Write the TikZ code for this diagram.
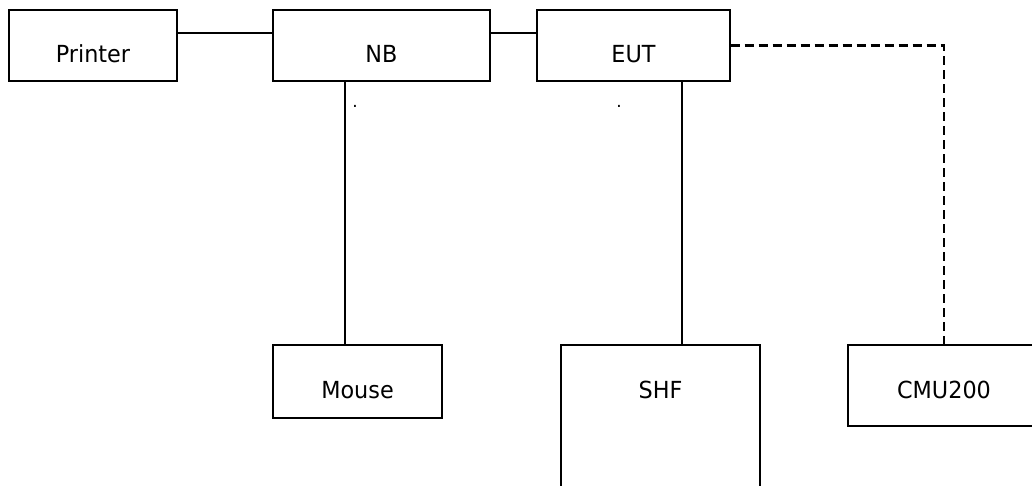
\documentclass[tikz,border=0pt]{standalone}
\usepackage{fontspec}
\setmainfont{DejaVu Sans}
\newfontfamily\boxfont[FakeStretch=0.95]{DejaVu Sans}
\usetikzlibrary{calc}
\usetikzlibrary{positioning}

\begin{document}
\begin{tikzpicture}[x=1pt,y=-1pt,line width=1.3pt,
		unit/.style={rectangle,draw=black,inner sep=0pt,text depth=0pt,font=\boxfont\fontsize{23.5}{28}\selectfont},
		link/.style={draw=black},
		radio/.style={draw=black,line width=2.4pt,dash pattern=on 9pt off 5pt}]
		\clip (0,0) rectangle (1032,486);
		
		\node[unit,minimum width=168,minimum height=71,text height=35pt] (printer) at (93,45.5)  {Printer};
		\node[unit,minimum width=217,minimum height=71,text height=35pt] (nb)      at (381.5,45.5) {NB};
		\node[unit,minimum width=193,minimum height=71,text height=35pt] (eut)     at (633.5,45.5) {EUT};
		\node[unit,minimum width=169,minimum height=73,text height=33pt] (mouse)   at (357.5,381.5) {Mouse};
		\node[unit,minimum width=199,minimum height=149,text depth=43pt,text height=0pt] (shf) at (660.5,419.5) {SHF};
		\node[unit,minimum width=192,minimum height=81,text height=25pt] (cmu)     at (944,385.5) {CMU200};
		
		% stray dots under the top row
		\node[font=\fontsize{17}{20}\selectfont,anchor=base] (dotnb)  at (355,108) {.};
		\node[font=\fontsize{17}{20}\selectfont,anchor=base] (doteut) at (619,108) {.};
		
		\coordinate (bus) at (0,33);
		\coordinate (nbdrop) at (345,0);
		\coordinate (eutdrop) at (682,0);
		
		\path[link]
		(printer.east |- bus) edge (nb.west |- bus)
		(nb.east |- bus) edge (eut.west |- bus)
		(nb.south -| nbdrop) edge (mouse.north -| nbdrop)
		(eut.south -| eutdrop) edge (shf.north -| eutdrop);
		\draw[radio] (eut.east) -| (cmu.north);
\end{tikzpicture}
\end{document}
